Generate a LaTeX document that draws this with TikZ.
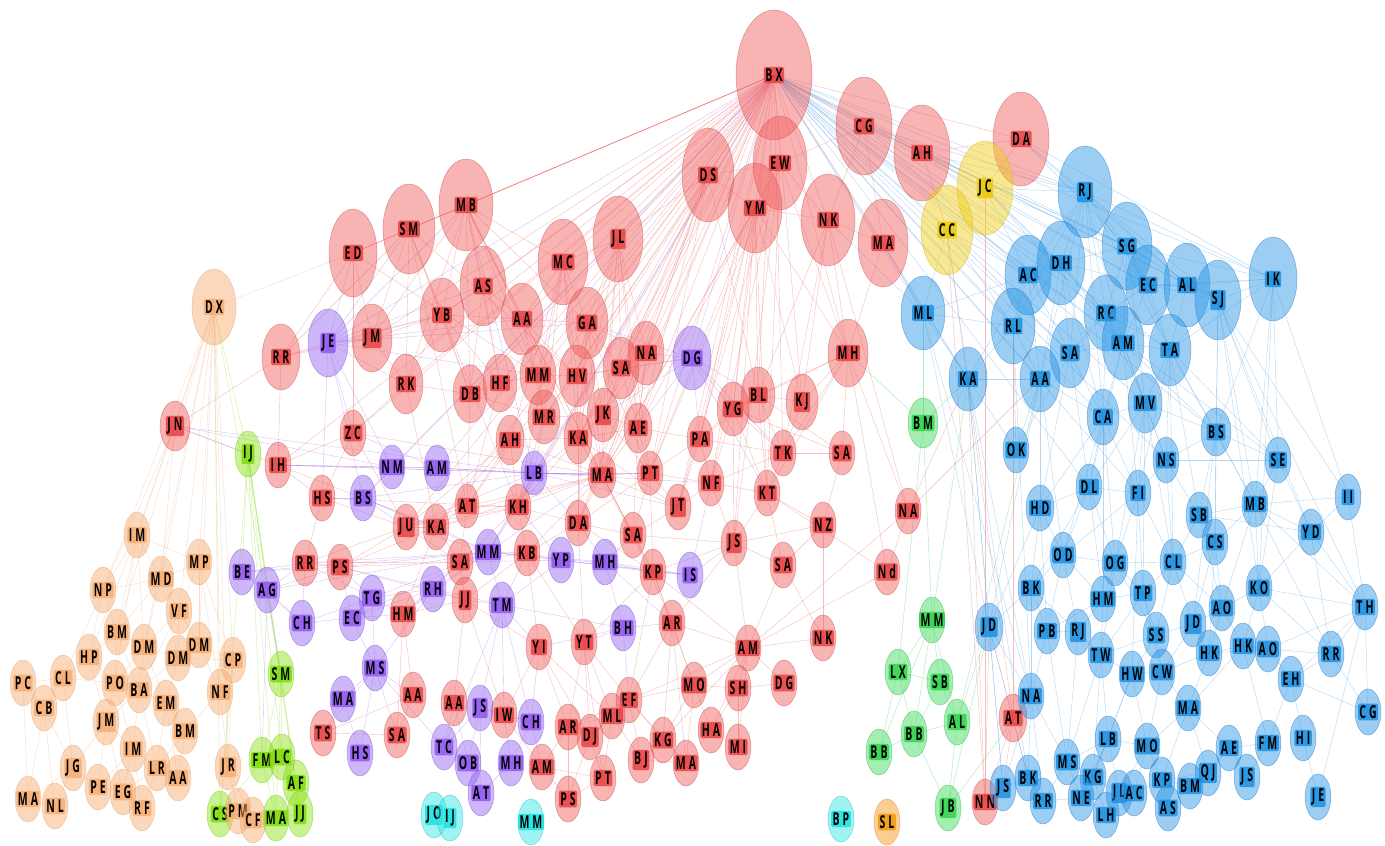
\documentclass[tikz,border=0pt]{standalone}
\usepackage{fontspec}
\newfontfamily\labf{Open Sans}
\usetikzlibrary{shapes.geometric}
\pgfdeclarelayer{bg}
\pgfsetlayers{bg,main}
% node colours: F fill, D border, L label box
\definecolor{rF}{RGB}{240,90,90}\definecolor{rD}{RGB}{200,80,80}\definecolor{rL}{RGB}{232,58,58}
\definecolor{bF}{RGB}{40,150,230}\definecolor{bD}{RGB}{40,120,200}\definecolor{bL}{RGB}{20,140,225}
\definecolor{pF}{RGB}{150,100,240}\definecolor{pD}{RGB}{120,80,210}\definecolor{pL}{RGB}{140,80,240}
\definecolor{oF}{RGB}{248,170,110}\definecolor{oD}{RGB}{230,170,120}\definecolor{oL}{RGB}{245,170,110}
\definecolor{lF}{RGB}{140,225,20}\definecolor{lD}{RGB}{120,200,30}\definecolor{lL}{RGB}{120,220,0}
\definecolor{gF}{RGB}{60,220,90}\definecolor{gD}{RGB}{50,180,80}\definecolor{gL}{RGB}{40,210,70}
\definecolor{yF}{RGB}{240,205,20}\definecolor{yD}{RGB}{210,180,30}\definecolor{yL}{RGB}{235,200,0}
\definecolor{cF}{RGB}{50,230,230}\definecolor{cD}{RGB}{40,190,190}\definecolor{cL}{RGB}{20,225,225}
\definecolor{sF}{RGB}{245,150,20}\definecolor{sD}{RGB}{220,140,40}\definecolor{sL}{RGB}{240,150,0}
% edge colours
\definecolor{erC}{RGB}{240,110,110}
\definecolor{ebC}{RGB}{90,165,230}
\definecolor{epC}{RGB}{165,125,240}
\definecolor{eoC}{RGB}{245,185,145}
\definecolor{elC}{RGB}{165,230,80}
\definecolor{egC}{RGB}{80,215,120}
\tikzset{
  lab/.style={fill=#1L, fill opacity=0.8, text opacity=1, text=black, draw=none,
    inner xsep=1.5pt, inner ysep=1.8pt, rounded corners=1.5pt,
    font=\labf\bfseries\fontsize{10.5}{10.5}\selectfont},
  nodeellipse/.style={ellipse, draw=#1D, fill=#1F, fill opacity=0.46, draw opacity=0.55,
    line width=0.5pt, inner sep=0pt},
  er/.style={draw=erC, line width=0.4pt, opacity=0.45},
  eb/.style={draw=ebC, line width=0.4pt, opacity=0.45},
  ep/.style={draw=epC, line width=0.4pt, opacity=0.45},
  eo/.style={draw=eoC, line width=0.4pt, opacity=0.5},
  el/.style={draw=elC, line width=0.4pt, opacity=0.55},
  eg/.style={draw=egC, line width=0.4pt, opacity=0.5},
}
\newcommand\splitlab[2]{#1\kern3pt#2}
\newcommand\nd[7]{\node[nodeellipse=#6, minimum width=#4*2pt, minimum height=#5*2pt,
  label={[lab=#6]center:\scalebox{1}[1.7]{\splitlab#7}}] (#1) at (#2,#3) {};}
\newcommand\fan[3]{\foreach \b in {#3} {\draw[#1] (#2.center) -- (\b.center);}}
\begin{document}
\begin{tikzpicture}[x=1pt,y=-1pt]
\useasboundingbox (0,0) rectangle (1385,846);
% ---------------- red ----------------
\nd{rBX}{774}{75}{38}{65}{r}{BX}
\nd{rEW}{780}{163}{27}{47}{r}{EW}
\nd{rDS}{708}{175}{26}{47}{r}{DS}
\nd{rYM}{755}{208}{27}{45}{r}{YM}
\nd{rCG}{864}{126}{28}{49}{r}{CG}
\nd{rAH}{922}{153}{28}{48}{r}{AH}
\nd{rDA}{1021}{139}{28}{47}{r}{DA}
\nd{rNK}{828}{220}{27}{46}{r}{NK}
\nd{rMA}{883}{243}{25}{44}{r}{MA}
\nd{rMB}{466}{205}{27}{46}{r}{MB}
\nd{rSM}{409}{229}{26}{45}{r}{SM}
\nd{rED}{353}{253}{24}{44}{r}{ED}
\nd{rMC}{563}{262}{25}{43}{r}{MC}
\nd{rJL}{618}{239}{25}{43}{r}{JL}
\nd{rAS}{483}{286}{23}{40}{r}{AS}
\nd{rYB}{442}{315}{22}{37}{r}{YB}
\nd{rAA}{522}{319}{21}{36}{r}{AA}
\nd{rGA}{587}{323}{21}{36}{r}{GA}
\nd{rJM}{372}{338}{20}{34}{r}{JM}
\nd{rRR}{281}{357}{19}{33}{r}{RR}
\nd{rRK}{406}{384}{17}{30}{r}{RK}
\nd{rDB}{470}{394}{17}{29}{r}{DB}
\nd{rHF}{500}{383}{17}{29}{r}{HF}
\nd{rMM}{538}{375}{18}{30}{r}{MM}
\nd{rHV}{577}{376}{18}{31}{r}{HV}
\nd{rSA}{621}{368}{18}{31}{r}{SA}
\nd{rNA}{646}{353}{18}{32}{r}{NA}
\nd{rMH}{848}{353}{20}{34}{r}{MH}
\nd{rMR}{544}{417}{16}{27}{r}{MR}
\nd{rAHb}{510}{440}{14}{25}{r}{AH}
\nd{rKA}{578}{438}{14}{26}{r}{KA}
\nd{rJK}{603}{415}{16}{27}{r}{JK}
\nd{rAE}{638}{428}{14}{25}{r}{AE}
\nd{rBL}{758}{395}{17}{28}{r}{BL}
\nd{rYG}{733}{409}{16}{27}{r}{YG}
\nd{rKJ}{802}{402}{16}{28}{r}{KJ}
\nd{rPA}{700}{439}{13}{23}{r}{PA}
\nd{rTK}{783}{453}{13}{23}{r}{TK}
\nd{rSAb}{842}{453}{13}{22}{r}{SA}
\nd{rJN}{175}{426}{15}{25}{r}{JN}
\nd{rIH}{278}{465}{13}{23}{r}{IH}
\nd{rZC}{353}{433}{13}{23}{r}{ZC}
\nd{rHS}{322}{498}{13}{23}{r}{HS}
\nd{rMAb}{602}{475}{14}{23}{r}{MA}
\nd{rPT}{650}{473}{13}{22}{r}{PT}
\nd{rNF}{711}{483}{13}{23}{r}{NF}
\nd{rKT}{767}{493}{13}{23}{r}{KT}
\nd{rNAb}{908}{511}{13}{23}{r}{NA}
\nd{rAT}{467}{506}{12}{22}{r}{AT}
\nd{rKH}{518}{507}{13}{23}{r}{KH}
\nd{rJT}{678}{507}{13}{23}{r}{JT}
\nd{rDA2}{578}{523}{13}{23}{r}{DA}
\nd{rSA2}{633}{535}{13}{23}{r}{SA}
\nd{rJU}{406}{527}{13}{23}{r}{JU}
\nd{rKA2}{436}{527}{13}{23}{r}{KA}
\nd{rNZ}{823}{525}{13}{23}{r}{NZ}
\nd{rJS}{734}{543}{13}{23}{r}{JS}
\nd{rKB}{527}{553}{13}{23}{r}{KB}
\nd{rSA3}{460}{562}{13}{23}{r}{SA}
\nd{rRR2}{305}{563}{13}{23}{r}{RR}
\nd{rPS}{340}{567}{13}{23}{r}{PS}
\nd{rSA4}{783}{565}{13}{23}{r}{SA}
\nd{rNd}{887}{572}{13}{23}{r}{Nd}
\nd{rKP}{653}{572}{13}{23}{r}{KP}
\nd{rJJ}{465}{600}{13}{23}{r}{JJ}
\nd{rHM}{403}{614}{13}{23}{r}{HM}
\nd{rAR}{672}{623}{13}{23}{r}{AR}
\nd{rYI}{539}{647}{13}{23}{r}{YI}
\nd{rYT}{584}{642}{13}{23}{r}{YT}
\nd{rNK2}{823}{638}{13}{23}{r}{NK}
\nd{rAM}{748}{648}{13}{23}{r}{AM}
\nd{rMO}{694}{685}{13}{23}{r}{MO}
\nd{rSH}{738}{688}{13}{23}{r}{SH}
\nd{rDG}{784}{683}{13}{23}{r}{DG}
\nd{rAA2}{413}{695}{13}{23}{r}{AA}
\nd{rAA3}{454}{703}{13}{23}{r}{AA}
\nd{rIW}{504}{715}{13}{23}{r}{IW}
\nd{rEF}{629}{700}{13}{23}{r}{EF}
\nd{rML}{612}{716}{13}{23}{r}{ML}
\nd{rAR2}{568}{727}{13}{23}{r}{AR}
\nd{rDJ}{590}{737}{13}{23}{r}{DJ}
\nd{rKG}{663}{740}{13}{23}{r}{KG}
\nd{rHA}{711}{730}{13}{23}{r}{HA}
\nd{rMI}{738}{747}{13}{23}{r}{MI}
\nd{rTS}{323}{733}{13}{23}{r}{TS}
\nd{rSA5}{397}{735}{13}{23}{r}{SA}
\nd{rBJ}{641}{760}{13}{23}{r}{BJ}
\nd{rMA2}{686}{763}{13}{23}{r}{MA}
\nd{rAM2}{542}{767}{13}{23}{r}{AM}
\nd{rPT2}{603}{778}{13}{23}{r}{PT}
\nd{rPS2}{568}{799}{13}{23}{r}{PS}
\nd{rAT2}{1013}{718}{14}{24}{r}{AT}
\nd{rNN}{985}{802}{13}{23}{r}{NN}
% ---------------- purple ----------------
\nd{pJE}{328}{343}{20}{34}{p}{JE}
\nd{pDG}{692}{358}{19}{32}{p}{DG}
\nd{pNM}{392}{467}{13}{22}{p}{NM}
\nd{pAM}{437}{468}{13}{23}{p}{AM}
\nd{pLB}{534}{473}{13}{22}{p}{LB}
\nd{pBS}{363}{498}{13}{23}{p}{BS}
\nd{pMM}{488}{552}{13}{23}{p}{MM}
\nd{pYP}{561}{560}{13}{23}{p}{YP}
\nd{pMH}{605}{562}{13}{23}{p}{MH}
\nd{pIS}{690}{575}{13}{23}{p}{IS}
\nd{pBE}{242}{572}{13}{23}{p}{BE}
\nd{pAG}{267}{590}{13}{23}{p}{AG}
\nd{pRH}{433}{589}{13}{23}{p}{RH}
\nd{pTG}{372}{598}{13}{23}{p}{TG}
\nd{pTM}{502}{605}{13}{23}{p}{TM}
\nd{pCH}{302}{623}{13}{23}{p}{CH}
\nd{pEC}{352}{618}{13}{23}{p}{EC}
\nd{pBH}{623}{628}{13}{23}{p}{BH}
\nd{pMS}{375}{668}{13}{23}{p}{MS}
\nd{pMA}{343}{699}{13}{23}{p}{MA}
\nd{pJS}{480}{708}{13}{23}{p}{JS}
\nd{pCH2}{531}{722}{13}{23}{p}{CH}
\nd{pHS}{360}{753}{13}{23}{p}{HS}
\nd{pTC}{444}{747}{13}{23}{p}{TC}
\nd{pOB}{468}{763}{13}{23}{p}{OB}
\nd{pMH2}{511}{763}{13}{23}{p}{MH}
\nd{pAT}{481}{793}{13}{23}{p}{AT}
% ---------------- yellow ----------------
\nd{yJC}{985}{188}{28}{47}{y}{JC}
\nd{yCC}{947}{230}{26}{45}{y}{CC}
% ---------------- blue ----------------
\nd{bRJ}{1085}{192}{27}{46}{b}{RJ}
\nd{bSG}{1127}{246}{25}{44}{b}{SG}
\nd{bAC}{1028}{275}{23}{40}{b}{AC}
\nd{bDH}{1061}{263}{24}{42}{b}{DH}
\nd{bEC}{1148}{285}{22}{40}{b}{EC}
\nd{bAL}{1187}{285}{23}{42}{b}{AL}
\nd{bSJ}{1218}{300}{23}{40}{b}{SJ}
\nd{bIK}{1273}{279}{24}{42}{b}{IK}
\nd{bML}{923}{313}{22}{37}{b}{ML}
\nd{bRL}{1013}{326}{22}{38}{b}{RL}
\nd{bRC}{1106}{313}{22}{38}{b}{RC}
\nd{bAM}{1123}{343}{21}{37}{b}{AM}
\nd{bTA}{1170}{350}{21}{36}{b}{TA}
\nd{bSA}{1070}{353}{20}{35}{b}{SA}
\nd{bAA}{1040}{379}{20}{33}{b}{AA}
\nd{bKA}{968}{379}{19}{32}{b}{KA}
\nd{bCA}{1103}{417}{16}{28}{b}{CA}
\nd{bMV}{1145}{403}{17}{30}{b}{MV}
\nd{bBS}{1216}{432}{15}{24}{b}{BS}
\nd{bOK}{1016}{450}{13}{23}{b}{OK}
\nd{bNS}{1166}{460}{13}{23}{b}{NS}
\nd{bSE}{1278}{460}{13}{23}{b}{SE}
\nd{bDL}{1089}{487}{13}{23}{b}{DL}
\nd{bFI}{1138}{493}{13}{23}{b}{FI}
\nd{bII}{1348}{497}{13}{23}{b}{II}
\nd{bHD}{1040}{508}{14}{23}{b}{HD}
\nd{bMB}{1255}{504}{13}{23}{b}{MB}
\nd{bSB}{1199}{515}{13}{23}{b}{SB}
\nd{bYD}{1311}{532}{13}{23}{b}{YD}
\nd{bCS}{1215}{542}{13}{23}{b}{CS}
\nd{bOD}{1063}{555}{13}{23}{b}{OD}
\nd{bOG}{1115}{563}{13}{23}{b}{OG}
\nd{bCL}{1173}{562}{13}{23}{b}{CL}
\nd{bBK}{1031}{588}{13}{23}{b}{BK}
\nd{bKO}{1259}{588}{13}{23}{b}{KO}
\nd{bTP}{1143}{593}{13}{23}{b}{TP}
\nd{bHM}{1103}{599}{13}{23}{b}{HM}
\nd{bTH}{1365}{607}{13}{23}{b}{TH}
\nd{bAO}{1222}{608}{13}{23}{b}{AO}
\nd{bJD}{1193}{624}{13}{23}{b}{JD}
\nd{bJD2}{989}{627}{14}{24}{b}{JD}
\nd{bPB}{1047}{631}{13}{23}{b}{PB}
\nd{bRJ2}{1078}{632}{13}{23}{b}{RJ}
\nd{bSS}{1156}{635}{13}{23}{b}{SS}
\nd{bHK2}{1243}{646}{13}{23}{b}{HK}
\nd{bAO2}{1268}{649}{13}{23}{b}{AO}
\nd{bHK}{1209}{653}{13}{23}{b}{HK}
\nd{bRR}{1331}{654}{13}{23}{b}{RR}
\nd{bTW}{1101}{655}{13}{23}{b}{TW}
\nd{bCW}{1162}{672}{13}{23}{b}{CW}
\nd{bHW}{1132}{674}{13}{23}{b}{HW}
\nd{bEH}{1291}{679}{13}{23}{b}{EH}
\nd{bNA}{1031}{696}{13}{23}{b}{NA}
\nd{bMA}{1188}{708}{13}{23}{b}{MA}
\nd{bCG}{1368}{712}{13}{23}{b}{CG}
\nd{bHI}{1303}{738}{13}{23}{b}{HI}
\nd{bLB}{1108}{739}{13}{23}{b}{LB}
\nd{bFM}{1268}{743}{13}{23}{b}{FM}
\nd{bMO}{1147}{746}{13}{23}{b}{MO}
\nd{bAE}{1229}{748}{13}{23}{b}{AE}
\nd{bMS}{1067}{762}{13}{23}{b}{MS}
\nd{bQJ}{1208}{773}{13}{23}{b}{QJ}
\nd{bKG}{1093}{777}{13}{23}{b}{KG}
\nd{bJS}{1247}{777}{13}{23}{b}{JS}
\nd{bBK2}{1028}{778}{13}{23}{b}{BK}
\nd{bKP}{1162}{780}{13}{23}{b}{KP}
\nd{bBM}{1190}{786}{13}{23}{b}{BM}
\nd{bJS2}{1003}{788}{13}{23}{b}{JS}
\nd{bJE}{1318}{797}{13}{23}{b}{JE}
\nd{bNE}{1081}{798}{13}{23}{b}{NE}
\nd{bRR2}{1043}{801}{13}{23}{b}{RR}
\nd{bJL}{1119}{793}{13}{23}{b}{JL}
\nd{bAC2}{1134}{793}{13}{23}{b}{AC}
\nd{bAS}{1168}{808}{13}{23}{b}{AS}
\nd{bLH}{1106}{815}{13}{23}{b}{LH}
% ---------------- peach ----------------
\nd{oDX}{214}{307}{22}{38}{o}{DX}
\nd{oIM}{137}{535}{13}{23}{o}{IM}
\nd{oMP}{199}{562}{13}{23}{o}{MP}
\nd{oMD}{161}{579}{13}{23}{o}{MD}
\nd{oNP}{103}{590}{13}{23}{o}{NP}
\nd{oVF}{179}{611}{13}{23}{o}{VF}
\nd{oBM}{117}{632}{13}{23}{o}{BM}
\nd{oDM3}{199}{645}{13}{23}{o}{DM}
\nd{oDM}{144}{647}{13}{23}{o}{DM}
\nd{oHP}{89}{657}{13}{23}{o}{HP}
\nd{oDM2}{178}{658}{13}{23}{o}{DM}
\nd{oCP}{233}{660}{13}{23}{o}{CP}
\nd{oCL}{63}{678}{13}{23}{o}{CL}
\nd{oPC}{23}{683}{13}{23}{o}{PC}
\nd{oPO}{115}{683}{13}{23}{o}{PO}
\nd{oBA}{139}{690}{13}{23}{o}{BA}
\nd{oNF}{220}{692}{13}{23}{o}{NF}
\nd{oEM}{166}{703}{13}{23}{o}{EM}
\nd{oCB}{44}{708}{13}{23}{o}{CB}
\nd{oJM}{106}{722}{13}{23}{o}{JM}
\nd{oBM2}{185}{731}{13}{23}{o}{BM}
\nd{oIM2}{133}{749}{13}{23}{o}{IM}
\nd{oJG}{73}{768}{13}{23}{o}{JG}
\nd{oLR}{157}{768}{13}{23}{o}{LR}
\nd{oJR}{228}{767}{13}{23}{o}{JR}
\nd{oAA}{178}{778}{13}{23}{o}{AA}
\nd{oPE}{98}{787}{13}{23}{o}{PE}
\nd{oEG}{123}{792}{13}{23}{o}{EG}
\nd{oMA}{28}{799}{13}{23}{o}{MA}
\nd{oNL}{55}{806}{13}{23}{o}{NL}
\nd{oRF}{142}{808}{13}{23}{o}{RF}
% ---------------- lime ----------------
\nd{lIJ}{248}{454}{13}{23}{l}{IJ}
\nd{lSM}{281}{674}{13}{23}{l}{SM}
\nd{lFM}{262}{760}{13}{23}{l}{FM}
\nd{lLC}{282}{757}{13}{23}{l}{LC}
\nd{lAF}{296}{783}{13}{23}{l}{AF}
\nd{lCS}{220}{814}{13}{23}{l}{CS}
\nd{oPM}{238}{811}{13}{23}{o}{PM}
\nd{oCF}{253}{820}{13}{23}{o}{CF}
\nd{lMA}{276}{818}{13}{23}{l}{MA}
\nd{lJJ}{300}{814}{13}{23}{l}{JJ}
% ---------------- green ----------------
\nd{gBM}{923}{423}{15}{25}{g}{BM}
\nd{gMM}{932}{620}{13}{23}{g}{MM}
\nd{gLX}{898}{672}{13}{23}{g}{LX}
\nd{gSB}{940}{682}{13}{23}{g}{SB}
\nd{gAL}{957}{722}{13}{23}{g}{AL}
\nd{gBB}{914}{734}{13}{23}{g}{BB}
\nd{gBB2}{879}{752}{13}{23}{g}{BB}
\nd{gJB}{948}{808}{13}{23}{g}{JB}
% ---------------- cyan / orange ----------------
\nd{cJO}{434}{815}{13}{23}{c}{JO}
\nd{cIJ}{450}{818}{13}{23}{c}{IJ}
\nd{cMM}{531}{822}{13}{23}{c}{MM}
\nd{cBP}{841}{819}{13}{23}{c}{BP}
\nd{sSL}{887}{822}{13}{23}{s}{SL}
% ================= edges =================
\begin{pgfonlayer}{bg}
\fill[white] (0,0) rectangle (1385,846);
% BX fans
\fan{er}{rBX}{rDS,rEW,rYM,rCG,rAH,rDA,rNK,rMA,rSM,rED,rMC,rJL,rAS,rYB,rAA,rGA,rJM,rRK,rDB,rHF,rMM,rHV,rSA,rNA,rMR,rKA,rJK,rAE,rMH,rBL,rYG,rKJ,rPA,rTK,rMAb,rPT,rKH,rAT,rIH,rZC,rJU,rKA2,rDA2,rJT}
\fan{ep}{rBX}{pJE,pDG,pLB,pAM,pNM,pBS,pMM}
\draw[er,opacity=0.8,line width=0.6pt] (rBX.center) -- (rMB.center);
\fan{eb}{rBX}{bRJ,bSG,bAC,bDH,bEC,bAL,bSJ,bIK,bRC,bAM,bTA,bSA,bAA,bRL,bML,bKA,bCA,bMV,bBS,bSE,bNS,yJC,yCC,bFI,bDL}
% upper red
\fan{er}{rMB}{rSM,rED,rAS,rYB,rJM,rDB,rHF,rAA,rGA,rMC,rRK,rMM,rKA,rMAb,rSA2}
\fan{ep}{rMB}{pJE,pLB}
\fan{er}{rSM}{rED,rJM,rRR,rYB,rRK,rDB,rKH,rAT,rHV}
\fan{ep}{rSM}{pJE}
\fan{er}{rED}{rRR,rJM,rZC,rMM}
\fan{ep}{rED}{pJE}
\fan{eo}{rED}{oDX}
\fan{er}{rYB}{rAS,rAA,rRK,rDB,rHF,rJM}
\fan{er}{rAS}{rAA,rHF,rDB,rMM}
\fan{er}{rAA}{rGA,rMM,rHV,rMR}
\fan{er}{rGA}{rHV,rSA,rNA,rMC,rJL,rKA,rJK,rMAb,rPT,rDA2}
\fan{er}{rMC}{rJL,rMM,rHV,rAA,rMR,rKA,rKH,rMAb,rAHb}
\fan{er}{rJL}{rSA,rNA,rHV,rJK,rDS,rMAb,rKA,rPT,rAE}
\fan{er}{rDS}{rYM,rEW,rNA,rSA,rJK,rAE,rBL,rMAb,rKA,rMR,rKH,rDA2,rPT}
\fan{er}{rYM}{rEW,rNK,rBL,rYG,rMH,rKJ,rPA,rMAb,rPT,rNF,rKT,rJS,rAE,rJT}
\fan{er}{rEW}{rCG,rNK,rMH,rMAb,rPT,rJT,rNF,rKT,rJS}
\fan{er}{rNK}{rMH,rMA,rBL,rKJ,rTK,rNAb}
\fan{er}{rMA}{rMH}
\fan{eb}{rMA}{bML,bKA}
\fan{eb}{rNK}{bML}
\fan{er}{rCG}{rAH,rMA,rNK}
\fan{eb}{rCG}{bRJ,bAC,bDH,bSG}
\fan{er}{rAH}{rDA,yCC,yJC}
\fan{eb}{rAH}{bRJ,bSG,bEC,bDH}
\fan{er}{rDA}{yJC}
\fan{eb}{rDA}{bRJ,bSG,bIK,bAL}
% right red
\fan{er}{rMH}{rBL,rKJ,rYG,rSAb,rNAb,rTK,rKT,rNd}
\fan{eg}{rMH}{gBM}
\fan{er}{rBL}{rYG,rKJ,rTK,rKT,rSAb,rPA}
\fan{er}{rYG}{rPA,rTK,rNF,rKT,rSAb,rJS}
\fan{er}{rKJ}{rTK}
\fan{er}{rTK}{rSAb,rKT,rNF,rPA}
\fan{er}{rKT}{rNZ,rNF,rJS,rSA4,rNd}
\fan{er}{rNF}{rJS,rPT,rJT}
\fan{er}{rPA}{rPT,rAE,rNF,rJT}
\fan{er}{rJS}{rSA4,rKP,rAM,rNZ,rSA2,rAR}
\fan{ep}{pDG}{rNA,rSA,rYG,rBL,rPA,rJK,rAE,rHV,rGA,rKT,rTK}
% central red
\fan{er}{rMR}{rKA,rAHb,rMM,rJK,rHV,rKH,rDB}
\fan{er}{rKA}{rJK,rMAb,rAE,rKH,rAHb,rHV,rSA,rDA2,rSA2,rJT}
\fan{er}{rJK}{rAE,rMAb,rSA,rNA,rPT}
\fan{er}{rAE}{rPT,rNA,rMAb,rSA2}
\fan{er}{rMAb}{rPT,rDA2,rKH,rSA2,rJT,rKB,rAT,rKA2,rJU,rAHb,rKP,rZC,rIH}
\fan{ep}{rMAb}{pLB,pMM}
\fan{er}{rPT}{rJT,rSA2,rDA2,rKP}
\fan{er}{rKH}{rAT,rKB,rDA2,rSA3,rKA2,rJU,rAHb,rHS}
\fan{ep}{rKH}{pYP,pMM}
\fan{er}{rAHb}{rAT,rKA2,rJU}
\fan{er}{rAT}{rKA2,rJU,rSA3,rDB,rHF}
\fan{er}{rDA2}{rKB,rSA2,rKP,rYT}
\fan{ep}{rDA2}{pMH}
\fan{er}{rSA2}{rJT,rKP,rAR}
\fan{er}{rJU}{rKA2,rSA3,rRR2,rHS,rZC}
\fan{er}{rKA2}{rSA3,rHM,rRK}
\fan{er}{rKB}{rSA3,rJJ,rYI,rYT}
\fan{er}{rSA3}{rJJ,rHM}
\fan{er}{rJJ}{rHM,rYI,rAA3,rIW}
\fan{er}{rHM}{rAA2,rSA5}
\fan{er}{rKP}{rAR,rYT,rEF,rAM,rMO}
\fan{er}{rAR}{rEF,rAM,rMO,rKG,rMA2}
\fan{er}{rYI}{rIW,rAR2,rDJ,rML}
\fan{er}{rYT}{rEF,rML,rDJ,rAR2,rPT2}
\fan{er}{rAM}{rMO,rSH,rDG,rHA,rMI,rNd,rNAb,rEF,rKG,rNK2}
\fan{er}{rMO}{rSH,rHA,rEF,rKG,rMA2}
\fan{er}{rSH}{rHA,rMI,rDG}
\fan{er}{rHA}{rMI}
\fan{er}{rEF}{rML,rDJ,rKG,rBJ,rAR2,rMA2}
\fan{er}{rML}{rDJ,rAR2,rBJ,rPT2}
\fan{er}{rDJ}{rAR2,rPT2,rPS2}
\fan{er}{rAR2}{rPS2,rAM2}
\fan{er}{rKG}{rBJ,rMA2}
\fan{er}{rBJ}{rMA2}
\fan{er}{rNZ}{rSA4,rSAb,rNK2}
\fan{er}{rSA4}{rNK2,rAM}
\fan{er}{rNd}{rNAb}
\fan{er}{rAA2}{rSA5,rTS}
\fan{er}{rSA5}{rTS}
\fan{er}{rIW}{rAM2}
\fan{er}{rAM2}{rPS2,rPT2}
\fan{er}{rPT2}{rPS2}
\fan{er}{rHS}{rZC,rRR2}
\fan{er}{rZC}{rRK}
\fan{er}{rRK}{rJM,rDB}
\fan{er}{rDB}{rHF}
\fan{er}{rHF}{rMM}
\fan{er}{rMM}{rHV}
\fan{er}{rHV}{rSA}
\fan{er}{rSA}{rNA,rAE}
\fan{er}{rNA}{rAE}
\fan{er}{rRR}{rJM,rJN,rYB}
\fan{er}{rRR2}{rPS,rSA3}
\fan{er}{rPS}{rSA3,rJU,rKA2,rJJ}
% left red / purple
\fan{ep}{rJN}{lIJ,pLB,pNM}
\fan{er}{rJN}{rIH}
\fan{er}{rIH}{rZC,rKA2,rHS,rRR}
\fan{ep}{rIH}{pNM,pAM,pLB}
\fan{ep}{pJE}{rRR,rJM,rZC,pBS,rRK,rYB,rAS,rAA,rGA,rMM,pNM,rHS}
\draw[ep,opacity=0.75,line width=0.6pt] (pAM.center) -- (pLB.center);
\fan{ep}{pNM}{pAM}
\fan{ep}{pAM}{rZC}
\fan{ep}{pLB}{rKA,rKH,rMR,pBS,rJU,rMAb,rPT,rJT,rNF,rDA2,pMM}
\fan{ep}{pBS}{rHS,rJU,pNM,rKA2,pMM}
\fan{ep}{pMM}{rSA3,rKB,pYP,pMH,pIS,rJU,rKA2,rPS,rRR2,pTM,pRH,pTG,pEC,rHM,pBE,pAG}
\fan{ep}{pYP}{pMH,rKB,pIS,rKP,rSA3,pTM}
\fan{ep}{pMH}{rKP,pIS,rSA2,pBH,rAR}
\fan{ep}{pIS}{rKP,rJS,rNF}
\fan{ep}{pRH}{rJJ,pTM,pTG,rHM,pEC,pMS,rPS,rSA3}
\fan{ep}{pTG}{pEC,rRR2,rPS,pCH,pMS,rHM}
\fan{ep}{pEC}{pCH,rHM,pMS,rPS}
\fan{ep}{pCH}{pAG,pBE,rRR2}
\fan{ep}{pBE}{rRR2,pAG,rPS}
\fan{ep}{pAG}{rRR2,rPS}
\fan{ep}{pTM}{rJJ,rYI,pBH,pJS,pCH2,rIW,pTC,rKB}
\fan{ep}{pMS}{pMA,rAA2,pHS,rTS,rSA5,pTC}
\fan{ep}{pMA}{rTS,pHS}
\fan{ep}{pJS}{rIW,pOB,pTC,pCH2,pAT}
\fan{ep}{pCH2}{rIW,pMH2,rAM2,rYI}
\fan{ep}{pTC}{pOB}
\fan{ep}{pOB}{pAT,rAA3}
\fan{ep}{pMH2}{pAT,rIW}
\fan{ep}{pBH}{rYT,rYI,rAR,rEF}
\fan{ep}{rAA3}{pTC}
% peach
\fan{eo}{oDX}{rJN,oIM,oMP,oMD,oNP,oBM,oVF,oDM,oCP,oNF,oJR,oDM3}
\fan{el}{oDX}{lIJ,lSM,lCS}
\fan{eo}{rJN}{oIM,oMD,oNP}
\fan{eo}{oIM}{oMP,oMD,oNP,oBM,oDM,oPO,oHP}
\fan{eo}{oMP}{oMD,oVF,oDM3,oCP,oNF}
\fan{eo}{oMD}{oVF,oBM,oDM,oDM2,oNP}
\fan{eo}{oNP}{oBM,oHP,oCL}
\fan{eo}{oVF}{oDM2,oDM3,oDM,oBA}
\fan{eo}{oBM}{oDM,oHP,oPO,oBA}
\fan{eo}{oDM}{oDM2,oBA,oPO,oEM}
\fan{eo}{oDM2}{oDM3,oEM,oBA,oCP}
\fan{eo}{oDM3}{oCP,oNF}
\fan{eo}{oHP}{oCL,oPO,oJM}
\fan{eo}{oCP}{oNF,oJR}
\fan{eo}{oCL}{oPC,oCB,oPO,oJG}
\fan{eo}{oPC}{oCB,oMA}
\fan{eo}{oPO}{oBA,oJM,oIM2}
\fan{eo}{oBA}{oEM,oJM,oIM2,oLR}
\fan{eo}{oNF}{oJR,oBM2}
\fan{eo}{oEM}{oBM2,oLR,oAA}
\fan{eo}{oCB}{oMA,oNL,oJG}
\fan{eo}{oJM}{oIM2,oJG,oPE,oEG}
\fan{eo}{oBM2}{oAA,oLR}
\fan{eo}{oIM2}{oLR,oEG,oRF,oPE}
\fan{eo}{oJG}{oPE,oNL,oMA}
\fan{eo}{oLR}{oAA,oRF,oEG}
\fan{eo}{oJR}{oPM,oCF}
\fan{eo}{oPE}{oEG}
\fan{eo}{oEG}{oRF}
\fan{eo}{oMA}{oNL}
\fan{eo}{oPM}{oCF}
% lime
\fan{el}{lIJ}{lSM,lFM,lLC,lAF,lJJ,pBE,pAG,lMA,lCS}
\fan{el}{lSM}{lFM,lLC,lAF,lMA}
\fan{el}{lFM}{lLC,lMA}
\fan{el}{lLC}{lAF,lJJ}
\fan{el}{lAF}{lJJ,lMA}
\fan{el}{lCS}{oPM,lFM,oCP}
\fan{el}{lMA}{lJJ}
\fan{ep}{pAG}{lSM,lFM}
% green
\fan{eg}{gBM}{gMM,gLX,bML,bKA}
\fan{eg}{gMM}{gLX,gSB,gBB,gAL,gBB2,bKA}
\fan{eg}{gLX}{gBB,gBB2,gSB}
\fan{eg}{gSB}{gBB,gAL}
\fan{eg}{gAL}{gBB,gJB,bJD2,bAA}
\fan{eg}{gBB}{gJB,gBB2}
\fan{eg}{gJB}{bJD2,bNA}
% red into blue zone
\fan{er}{rNAb}{bKA,bAA}
\fan{er}{rAT2}{bRL,yCC,bNA,bJD2,rNN,bJS2,bBK2}
\fan{er}{rNN}{yJC,bJD2,bJS2,bKA,yCC}
% yellow
\fan{eb}{yJC}{bDH,bRC,bAM,bSG,bRJ}
\fan{eb}{yCC}{bAC,bRL,bKA,bSA,bML}
% blue hubs
\fan{eb}{bRJ}{bSG,bDH,bAC,bEC,bAL,bSJ,bIK,bRC,bAM,bTA,bSA,bRL,bAA,bCA}
\fan{eb}{bSG}{bEC,bDH,bAL,bRC,bAM,bTA,bSJ,bIK,bMV}
\fan{eb}{bDH}{bAC,bRL,bSA,bAA,bRC,bAM,bEC,bCA}
\fan{eb}{bAC}{bRL,bSA,bAA,yJC,bKA,bML}
\fan{eb}{bEC}{bAL,bRC,bAM,bTA,bSJ,bIK}
\fan{eb}{bAL}{bSJ,bIK,bTA,bAM}
\fan{eb}{bSJ}{bIK,bTA,bBS,bSE,bMB,bII,bYD,bTH,bCS,bKO}
\fan{eb}{bIK}{bSE,bII,bBS,bMB,bTA,bKO}
\fan{eb}{bRC}{bAM,bSA,bCA,bMV,bTA}
\fan{eb}{bAM}{bTA,bMV,bCA,bSA,bNS,bFI,bDL,bBS}
\fan{eb}{bTA}{bMV,bBS,bNS,bSB,bFI,bCL,bSE,bMB}
\fan{eb}{bSA}{bAA,bCA,bOK,bHD,bDL}
\fan{eb}{bAA}{bKA,bOK,bHD,bCA,bOD,bJD2}
\fan{eb}{bRL}{bKA,bAA,bML,bOK,bNA}
\fan{eb}{bML}{bKA,bJD2,bNA}
\fan{eb}{bKA}{bJD2,bBK2,bJS2,bNA,bOK}
\fan{eb}{bCA}{bMV,bDL,bFI,bHD,bOD,bOG,bHM}
\fan{eb}{bMV}{bNS,bBS,bFI,bOG,bCL,bTP,bDL}
\fan{eb}{bBS}{bNS,bSE,bSB,bCS,bMB,bJD}
\fan{eb}{bNS}{bSE,bFI,bSB,bCL}
\fan{eb}{bSE}{bMB,bYD,bKO}
\fan{eb}{bII}{bYD,bTH,bMB}
\fan{eb}{bMB}{bSB,bYD,bCS,bKO,bAO,bRR,bTH}
\fan{eb}{bSB}{bCS,bCL,bYD,bAO}
\fan{eb}{bCS}{bCL,bAO,bJD,bHK}
\fan{eb}{bYD}{bTH,bRR,bKO}
\fan{eb}{bDL}{bFI,bOD,bHD,bOG,bHM,bBK}
\fan{eb}{bFI}{bOG,bCL,bTP,bOD,bHW}
\fan{eb}{bHD}{bOD,bBK,bPB,bJD2}
\fan{eb}{bOD}{bOG,bBK,bHM,bPB,bRJ2}
\fan{eb}{bOG}{bCL,bHM,bTP,bTW,bSS}
\fan{eb}{bCL}{bTP,bSS,bJD,bAO}
\fan{eb}{bBK}{bPB,bRJ2,bNA,bJD2}
\fan{eb}{bKO}{bAO,bTH,bHK2,bAO2,bRR}
\fan{eb}{bTP}{bHM,bSS,bTW,bCW}
\fan{eb}{bHM}{bRJ2,bTW,bPB}
\fan{eb}{bTH}{bRR,bAO2,bCG,bJE,bEH}
\fan{eb}{bAO}{bJD,bHK,bHK2}
\fan{eb}{bJD}{bSS,bHK,bCW}
\fan{eb}{bPB}{bRJ2,bNA,bMS}
\fan{eb}{bRJ2}{bTW,bMS}
\fan{eb}{bSS}{bCW,bHW,bTW}
\fan{eb}{bHK2}{bAO2,bHK,bMA,bFM}
\fan{eb}{bAO2}{bRR,bEH}
\fan{eb}{bHK}{bCW,bMA,bAO2}
\fan{eb}{bRR}{bEH,bCG}
\fan{eb}{bEH}{bCG,bHI,bFM}
\fan{eb}{bTW}{bHW,bLB,bMS,bKG}
\fan{eb}{bCW}{bHW,bMA,bMO}
\fan{eb}{bHW}{bLB,bMO,bKG}
\fan{eb}{bNA}{bMS,bRR2,bBK2,bJS2}
\fan{eb}{bMA}{bAE,bMO,bKP,bQJ}
\fan{eb}{bHI}{bJE}
\fan{eb}{bLB}{bMS,bKG,bMO,bJL,bNE}
\fan{eb}{bMO}{bKP,bAC2,bJL}
\fan{eb}{bAE}{bFM,bJS,bQJ,bBM}
\fan{eb}{bFM}{bJS}
\fan{eb}{bMS}{bKG,bNE,bRR2}
\fan{eb}{bQJ}{bBM,bKP}
\fan{eb}{bKG}{bNE,bJL,bLH}
\fan{eb}{bBK2}{bJS2,bRR2}
\fan{eb}{bKP}{bAS,bBM,bAC2}
\fan{eb}{bJL}{bAC2,bLH}
\fan{eb}{bNE}{bLH,bRR2}
\fan{eb}{bAS}{bBM}
\fan{eb}{bJD2}{bNA,bBK2,bJS2}
% cyan
\draw[eb] (cJO.center) -- (cIJ.center);
\end{pgfonlayer}
\end{tikzpicture}
\end{document}
